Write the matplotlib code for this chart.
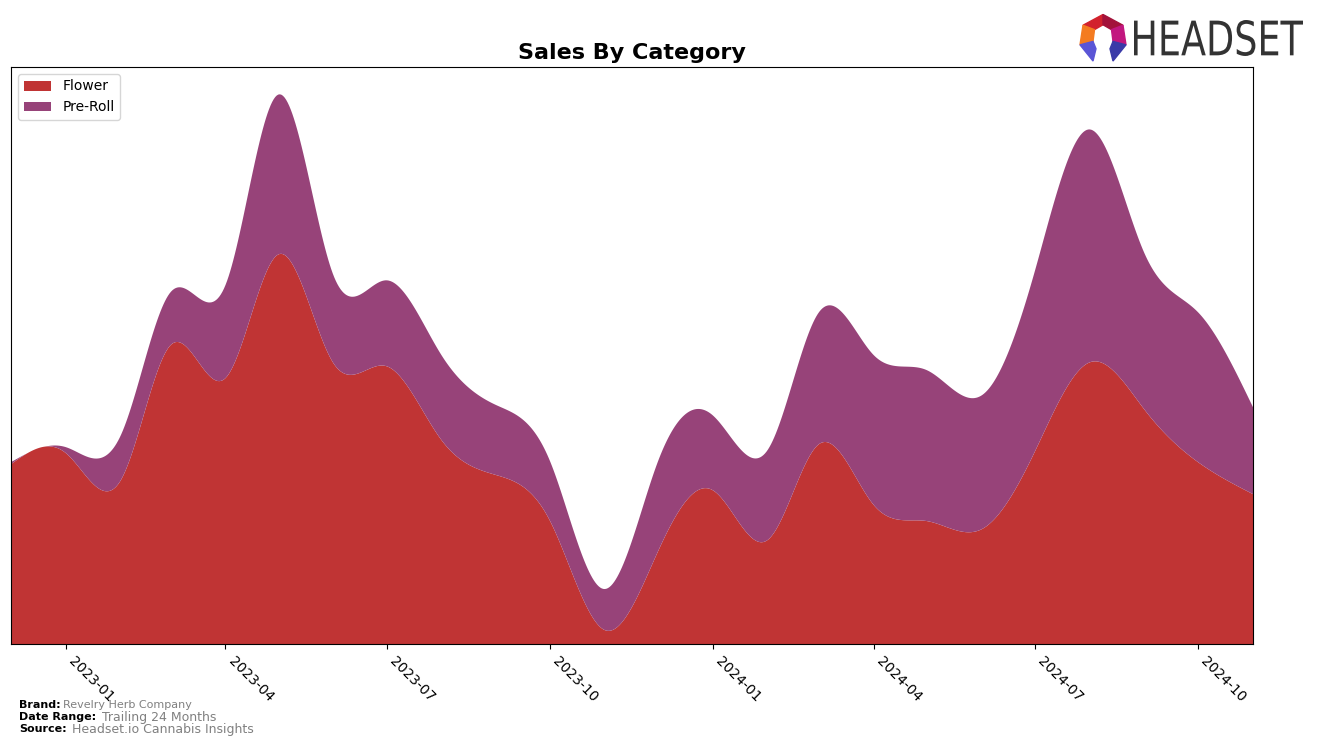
import numpy as np
import pandas as pd
import matplotlib
matplotlib.use("Agg")
import matplotlib.pyplot as plt
import matplotlib.dates as mdates
from matplotlib.patches import Polygon, PathPatch
from matplotlib.textpath import TextPath
from matplotlib.font_manager import FontProperties

# monthly sales (arbitrary units)
months = pd.date_range("2022-12-01", periods=24, freq="MS")
flower = [180, 191, 164, 299, 266, 390, 281, 278, 204, 169, 124, 14,
          92, 154, 104, 200, 139, 123, 115, 193, 282, 234, 182, 150]
pre_roll = [2, 6, 45, 53, 93, 160, 88, 86, 85, 70, 60, 41,
            90, 75, 90, 132, 150, 151, 134, 181, 233, 156, 150, 87]
categories = ["Flower", "Pre-Roll"]
colors = ["#c03434", "#974379"]


def spline(x, y, xs):
    # natural cubic spline, just for drawing the curves smooth
    x = np.asarray(x, float)
    y = np.asarray(y, float)
    n = len(x)
    h = np.diff(x)
    A = np.zeros((n, n))
    r = np.zeros(n)
    A[0, 0] = 1
    A[-1, -1] = 1
    for i in range(1, n - 1):
        A[i, i - 1] = h[i - 1]
        A[i, i] = 2 * (h[i - 1] + h[i])
        A[i, i + 1] = h[i]
        r[i] = 3 * ((y[i + 1] - y[i]) / h[i] - (y[i] - y[i - 1]) / h[i - 1])
    c = np.linalg.solve(A, r)
    b = (y[1:] - y[:-1]) / h - h * (2 * c[:-1] + c[1:]) / 3
    d = (c[1:] - c[:-1]) / (3 * h)
    idx = np.clip(np.searchsorted(x, xs) - 1, 0, n - 2)
    t = xs - x[idx]
    return y[idx] + b[idx] * t + c[idx] * t ** 2 + d[idx] * t ** 3


xnum = mdates.date2num(months)
xs = np.linspace(xnum[0], xnum[-1], 800)
flower_s = np.clip(spline(xnum, flower, xs), 0, None)
pre_s = np.clip(spline(xnum, pre_roll, xs), 0, None)

fig = plt.figure(figsize=(13.17, 7.46), dpi=100)
ax = fig.add_axes([11 / 1317, 102 / 746, 1242 / 1317, 577 / 746])

ax.stackplot(xs, flower_s, pre_s, labels=categories, colors=colors)
total_max = max(np.array(flower) + np.array(pre_roll))
ax.set_ylim(0, total_max * 1.05)
ax.set_xlim(xnum[0], xnum[-1])
ax.set_yticks([])

ax.xaxis.set_major_locator(mdates.MonthLocator(bymonth=[1, 4, 7, 10]))
ax.xaxis.set_major_formatter(mdates.DateFormatter("%Y-%m"))
plt.setp(ax.get_xticklabels(), rotation=-45, ha="left", fontsize=10)

ax.set_title("Sales By Category", fontsize=16, fontweight="bold", pad=6)
ax.legend(loc="upper left", fontsize=10)

# footer
fig.text(19 / 1317, 1 - 705 / 746, "Brand:", fontsize=8, fontweight="bold", va="center")
fig.text(63 / 1317, 1 - 705 / 746, "Revelry Herb Company", fontsize=8, color="gray", va="center")
fig.text(19 / 1317, 1 - 717 / 746, "Date Range:", fontsize=8, fontweight="bold", va="center")
fig.text(102 / 1317, 1 - 717 / 746, "Trailing 24 Months", fontsize=9, color="gray", va="center")
fig.text(19 / 1317, 1 - 729 / 746, "Source:", fontsize=8, fontweight="bold", va="center")
fig.text(72 / 1317, 1 - 729 / 746, "Headset.io Cannabis Insights", fontsize=9, color="gray", va="center")

# headset logo
lax = fig.add_axes([1078 / 1317, 1 - 62 / 746, 50 / 1317, 49 / 746])
lax.set_xlim(0, 1)
lax.set_ylim(0, 1)
lax.axis("off")
pieces = [
    ([(0.1, 0.75), (0.5, 0.97), (0.5, 0.76), (0.33, 0.66)], "#d2222d"),
    ([(0.5, 0.97), (0.9, 0.75), (0.67, 0.66), (0.5, 0.76)], "#a3123a"),
    ([(0.1, 0.75), (0.33, 0.66), (0.3, 0.42), (0.04, 0.35)], "#f47b20"),
    ([(0.9, 0.75), (0.96, 0.35), (0.7, 0.42), (0.67, 0.66)], "#c2177f"),
    ([(0.04, 0.35), (0.3, 0.42), (0.36, 0.27), (0.3, 0.02)], "#5a55d6"),
    ([(0.96, 0.35), (0.7, 0.42), (0.64, 0.27), (0.7, 0.02)], "#3a3aa8"),
]
for pts, col in pieces:
    lax.add_patch(Polygon(pts, closed=True, color=col))

# word mark, squeezed into its box
tp = TextPath((0, 0), "HEADSET", size=10, prop=FontProperties(family="DejaVu Sans"))
ext = tp.get_extents()
tax = fig.add_axes([1134 / 1317, 1 - 56 / 746, 169 / 1317, 36 / 746])
tax.set_xlim(ext.x0, ext.x1)
tax.set_ylim(ext.y0, ext.y1)
tax.axis("off")
tax.add_patch(PathPatch(tp, color="#333333", lw=0))

fig.savefig("out.png", dpi=100)
